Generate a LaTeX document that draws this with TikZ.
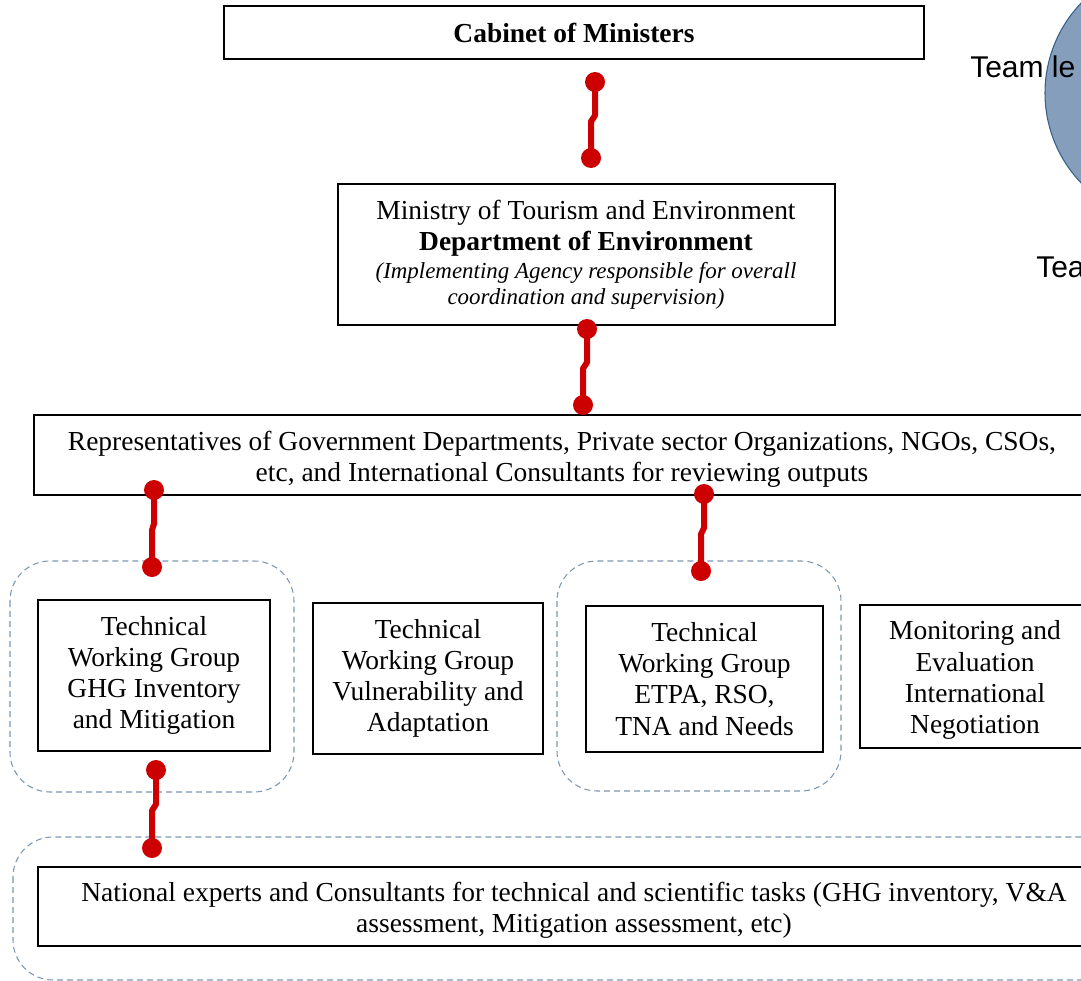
\documentclass[tikz,border=0pt]{standalone}
\usepackage{fontspec}
\setmainfont{Liberation Serif}
\newfontfamily\arialfont{Liberation Sans}
\usetikzlibrary{calc}
\definecolor{conred}{RGB}{204,0,0}
\definecolor{dashblue}{RGB}{125,150,180}
\definecolor{circfill}{RGB}{132,158,188}
\definecolor{circline}{RGB}{55,95,140}
\newcommand{\mainsz}{\fontsize{20.6pt}{23.3pt}\selectfont}
\newcommand{\itsz}{\fontsize{17.2pt}{19.5pt}\selectfont\itshape}
\begin{document}
\begin{tikzpicture}[x=0.75pt,y=-0.75pt,
  box/.style={draw, line width=0.9pt, fill=white, inner sep=0pt, align=center, font=\mainsz},
  txt/.style={inner sep=0pt, align=center, font=\mainsz},
  grp/.style={draw=dashblue, dash pattern=on 4.5pt off 3pt, line width=0.8pt, rounded corners=30pt},
  dot/.style={circle, fill=conred, inner sep=0pt, minimum size=15pt},
  conn/.style={draw=conred, line width=4.5pt, line join=round},
  lbl/.style={inner sep=0pt, anchor=base west, font=\arialfont\fontsize{22.5pt}{24pt}\selectfont}]
\useasboundingbox (0,0) rectangle (1081,981);
\clip (0,0) rectangle (1081,981);
% circle and team labels
\draw[fill=circfill, draw=circline, line width=0.8pt] (1175,93) circle (130);
\node[lbl] (tl) at (970,78) {Team le};
\node[lbl] (tb) at (1036,277) {Tea};
% dashed groups
\draw[grp] (10,561) rectangle (294,792);
\draw[grp] (557,561) rectangle (841,791);
\draw[grp] (13,837) rectangle (1130,980);
% boxes
\node[box, minimum width=525pt, minimum height=39.75pt] (cab) at (574,32.5) {\textbf{Cabinet of Ministers}};
\node[box, minimum width=372.75pt, minimum height=105.75pt] (min) at (586.5,254.5) {};
\node[txt] (minA) at (586,228) {Ministry of Tourism and Environment\\\textbf{Department of Environment}};
\node[txt, font=\itsz] (minB) at (586,286) {(Implementing Agency responsible for overall\\coordination and supervision)};
\node[box, minimum width=792pt, minimum height=60pt] (rep) at (562,455) {};
\node[txt] (repT) at (562,459) {Representatives of Government Departments, Private sector Organizations, NGOs, CSOs,\\etc, and International Consultants for reviewing outputs};
\node[box, minimum width=174pt, minimum height=113.25pt] (tw1) at (154,675.5) {Technical\\Working Group\\GHG Inventory\\and Mitigation};
\node[box, minimum width=172.5pt, minimum height=113.25pt] (tw2) at (428,678.5) {Technical\\Working Group\\Vulnerability and\\Adaptation};
\node[box, minimum width=177.75pt, minimum height=109.5pt] (tw3) at (704.5,679) {Technical\\Working Group\\ETPA, RSO,\\TNA and Needs};
\node[box, minimum width=172.5pt, minimum height=107.25pt] (me) at (975,676.5) {};
\node[txt] (meT) at (975,680) {Monitoring and\\Evaluation\\International\\Negotiation};
\node[box, minimum width=804pt, minimum height=59.25pt] (nat) at (574,906.5) {};
\node[txt] (natT) at (574,910.5) {National experts and Consultants for technical and scientific tasks (GHG inventory, V\&A\\assessment, Mitigation assessment, etc)};
% connectors
\coordinate (a1) at (595,82);  \coordinate (b1) at (591,158);
\coordinate (a2) at (587,329); \coordinate (b2) at (583,405);
\coordinate (a3) at (154,490); \coordinate (b3) at (152,567);
\coordinate (a4) at (704,494); \coordinate (b4) at (701,571);
\coordinate (a5) at (156,770); \coordinate (b5) at (152,848);
\foreach \i in {1,...,5}{
  \coordinate (p\i) at ($(a\i)!0.44!(b\i)$);
  \coordinate (q\i) at ($(a\i)!0.52!(b\i)$);
  \draw[conn] (a\i) -- (a\i |- p\i) -- (b\i |- q\i) -- (b\i);
  \node[dot] (da\i) at (a\i) {};
  \node[dot] (db\i) at (b\i) {};
}
\end{tikzpicture}
\end{document}
